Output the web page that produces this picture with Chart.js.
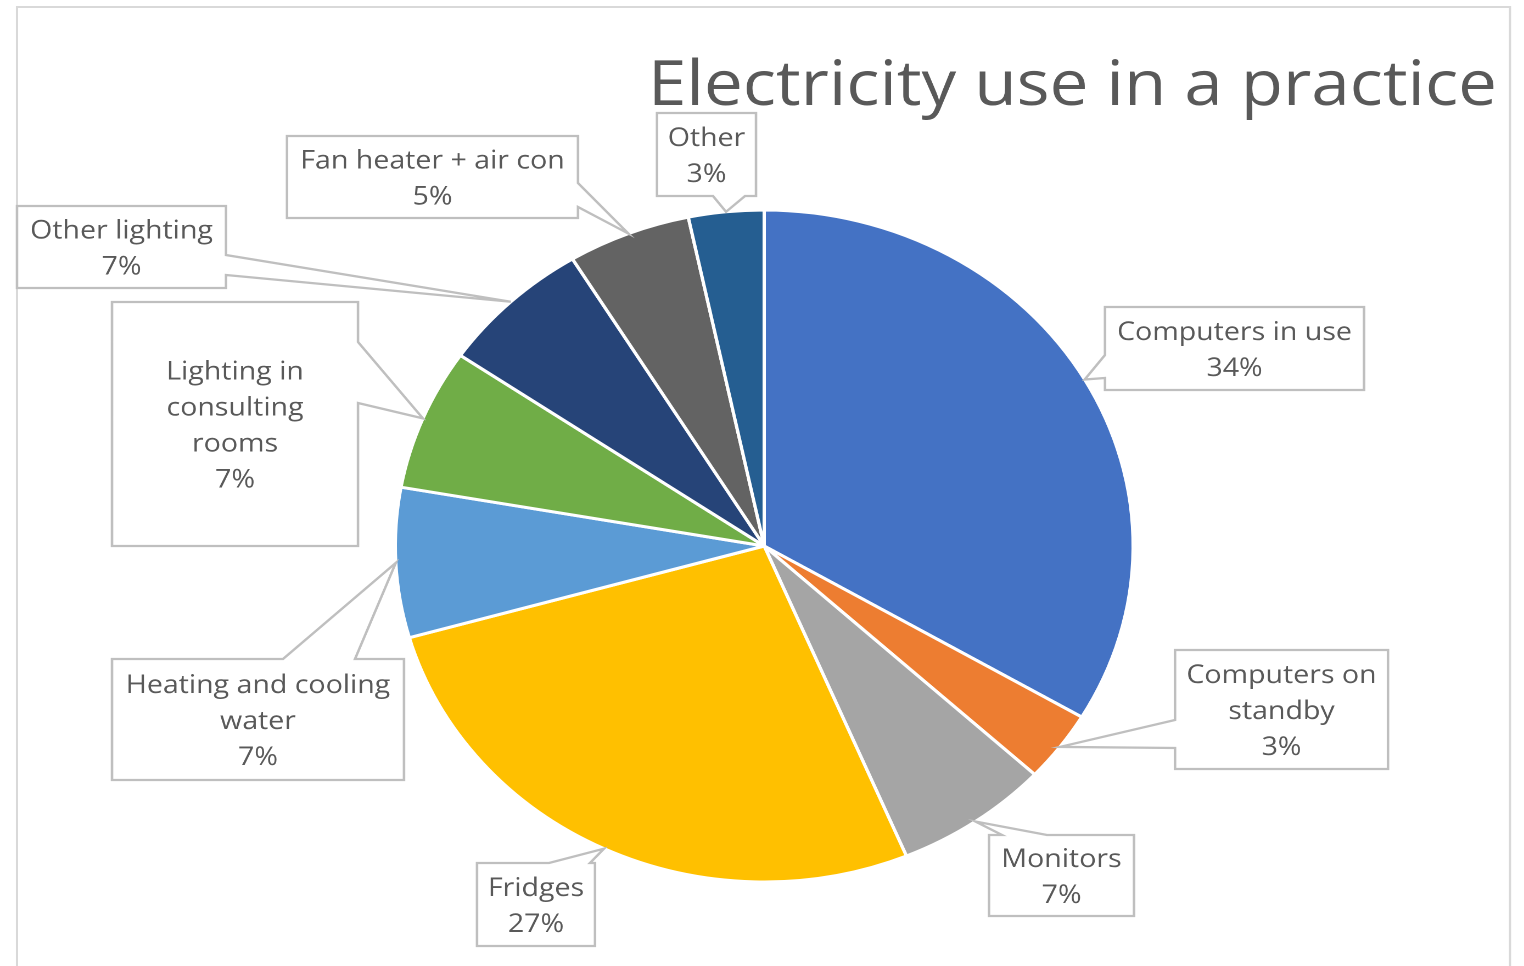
<!DOCTYPE html>
<html><head><meta charset="utf-8">
<script src="https://cdn.jsdelivr.net/npm/chart.js@4"></script>
<style>
html,body{margin:0;padding:0;background:#fff;overflow:hidden;width:1524px;height:966px}
#wrap{position:absolute;left:0;top:0;width:1388px;height:966px;transform:scaleX(1.098);transform-origin:0 0}
</style></head><body>
<div id="wrap"><canvas id="c" width="1388" height="966"></canvas></div>
<script>
// ---- data ----
const chartTitle = 'Electricity use in a practice';
const categories = ['Computers in use','Computers on standby','Monitors','Fridges','Heating and cooling water','Lighting in consulting rooms','Other lighting','Fan heater + air con','Other'];
const labelLines = [['Computers in use'],['Computers on','standby'],['Monitors'],['Fridges'],['Heating and cooling','water'],['Lighting in','consulting','rooms'],['Other lighting'],['Fan heater + air con'],['Other']];
const values = [33.5, 3.4, 6.8, 26.9, 7.2, 6.8, 6.7, 5.4, 3.3];
const colors = ['#4472C4','#ED7D31','#A5A5A5','#FFC000','#5B9BD5','#70AD47','#264478','#636363','#255E91'];

// ---- layout (screen coordinates of callout boxes) ----
const SX = 1.098;
const X = x => x / SX;
const callouts = [
  {box:[1105,307,1364,390], edge:'left',  a:355, b:378},
  {box:[1175,650,1388,769], edge:'left',  a:720, b:748},
  {box:[989,835,1134,916],  edge:'top',   a:1002, b:1047},
  {box:[477,863,595,946],   edge:'top',   a:549, b:590},
  {box:[112,659,404,780],   edge:'top',   a:283, b:355},
  {box:[112,302,358,546],   edge:'right', a:342, b:403},
  {box:[17,206,226,288],    edge:'right', a:255, b:275},
  {box:[287,136,578,218],   edge:'right', a:183, b:207},
  {box:[657,113,756,196],   edge:'bottom',a:713, b:745}
];

const calloutPlugin = {
  id:'callouts',
  afterDatasetsDraw(chart){
    const ctx = chart.ctx;
    const meta = chart.getDatasetMeta(0);
    const total = values.reduce((s,v)=>s+v,0);
    ctx.save();
    // outer frame
    ctx.strokeStyle = '#D9D9D9'; ctx.lineWidth = 2;
    ctx.beginPath();
    ctx.moveTo(X(17), 990); ctx.lineTo(X(17), 7); ctx.lineTo(X(1510), 7); ctx.lineTo(X(1510), 990);
    ctx.stroke();
    // title
    ctx.fillStyle = '#595959';
    ctx.font = '62px "Open Sans"';
    ctx.textAlign = 'left'; ctx.textBaseline = 'alphabetic';
    const tw = ctx.measureText(chartTitle).width;
    const target = X(1497) - X(648);
    ctx.save();
    ctx.translate(X(648), 105);
    ctx.scale(target / tw, 1);
    ctx.fillText(chartTitle, 0, 0);
    ctx.restore();

    meta.data.forEach((arc, i) => {
      const p = arc.getProps(['x','y','startAngle','endAngle','outerRadius'], true);
      const mid = (p.startAngle + p.endAngle) / 2;
      const tx = p.x + Math.cos(mid) * p.outerRadius;
      const ty = p.y + Math.sin(mid) * p.outerRadius;
      const c = callouts[i];
      const x1 = X(c.box[0]), y1 = c.box[1], x2 = X(c.box[2]), y2 = c.box[3];
      ctx.beginPath();
      if (c.edge === 'left') {
        ctx.moveTo(x1,y1); ctx.lineTo(x2,y1); ctx.lineTo(x2,y2); ctx.lineTo(x1,y2);
        ctx.lineTo(x1,c.b); ctx.lineTo(tx,ty); ctx.lineTo(x1,c.a);
      } else if (c.edge === 'right') {
        ctx.moveTo(x1,y1); ctx.lineTo(x2,y1); ctx.lineTo(x2,c.a); ctx.lineTo(tx,ty);
        ctx.lineTo(x2,c.b); ctx.lineTo(x2,y2); ctx.lineTo(x1,y2);
      } else if (c.edge === 'top') {
        ctx.moveTo(x1,y1); ctx.lineTo(X(c.a),y1); ctx.lineTo(tx,ty); ctx.lineTo(X(c.b),y1);
        ctx.lineTo(x2,y1); ctx.lineTo(x2,y2); ctx.lineTo(x1,y2);
      } else {
        ctx.moveTo(x1,y1); ctx.lineTo(x2,y1); ctx.lineTo(x2,y2); ctx.lineTo(X(c.b),y2);
        ctx.lineTo(tx,ty); ctx.lineTo(X(c.a),y2); ctx.lineTo(x1,y2);
      }
      ctx.closePath();
      ctx.fillStyle = '#FFFFFF'; ctx.fill();
      ctx.strokeStyle = '#BFBFBF'; ctx.lineWidth = 2.3; ctx.lineJoin = 'miter'; ctx.stroke();

      const lines = labelLines[i].concat([Math.round(values[i] / total * 100) + '%']);
      ctx.fillStyle = '#595959';
      ctx.font = '26px "Open Sans"';
      ctx.textAlign = 'center'; ctx.textBaseline = 'middle';
      const cx = (x1 + x2) / 2, cy = (y1 + y2) / 2 + 2;
      const lh = 36;
      const startY = cy - (lines.length - 1) * lh / 2;
      lines.forEach((t, k) => ctx.fillText(t, cx, startY + k * lh));
    });
    ctx.restore();
  }
};

new Chart(document.getElementById('c'), {
  type: 'pie',
  data: {
    labels: categories,
    datasets: [{
      data: values,
      backgroundColor: colors,
      borderColor: '#FFFFFF',
      borderWidth: 3,
      radius: 336,
      hoverOffset: 0
    }]
  },
  options: {
    responsive: false,
    animation: false,
    devicePixelRatio: 2,
    events: [],
    layout: { padding: { left: 300, right: 296, top: 200, bottom: 74 } },
    plugins: { legend: { display: false }, tooltip: { enabled: false }, title: { display: false } }
  },
  plugins: [calloutPlugin]
});
</script>
</body></html>
